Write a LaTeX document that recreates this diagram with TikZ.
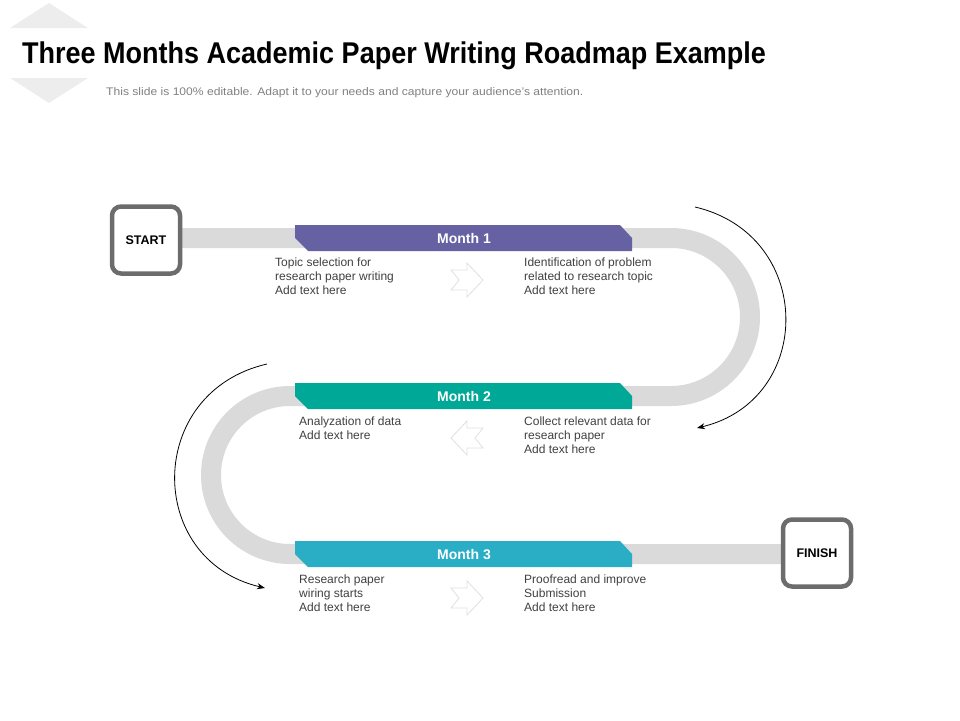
\documentclass[tikz,border=0pt]{standalone}
\usepackage{fontspec}
\setmainfont{Liberation Sans}
\usetikzlibrary{arrows.meta}
\definecolor{mpurple}{HTML}{6561A2}
\definecolor{mteal}{HTML}{00A898}
\definecolor{mcyan}{HTML}{2AAEC6}
\definecolor{track}{HTML}{DADADA}
\definecolor{bodytxt}{HTML}{404040}
\tikzset{
 bodytext/.style={anchor=north west,align=left,font=\fontsize{12}{14}\selectfont,text=bodytxt,inner sep=0pt},
 endbox/.style={draw=gray!85!black,line width=4.5pt,fill=white,rounded corners=9pt,minimum width=68pt,minimum height=67pt,font=\bfseries\fontsize{12.5}{14}\selectfont},
 banlabel/.style={text=white,font=\bfseries\fontsize{14}{16}\selectfont},
 hollow/.style={draw=black!12,line width=0.8pt,fill=white},
 curvearrow/.style={-{Stealth[length=8pt,width=6pt]},line width=0.8pt}
}
\newcommand{\banner}[3]{%
 \fill[#2] (295,#1-13) -- (620,#1-13) -- (632,#1) -- (632,#1+13) -- (308,#1+13) -- (295,#1) -- cycle;
 \node[banlabel] (#3) at (464,#1) {\csname lbl#3\endcsname};}
\newcommand{\lblma}{Month 1}\newcommand{\lblmb}{Month 2}\newcommand{\lblmc}{Month 3}
\begin{document}
\begin{tikzpicture}[x=1pt,y=-1pt]
\useasboundingbox (0,0) rectangle (960,720);
% background diamond
\fill[black!7] (10,28) -- (49,3) -- (88,28) -- cycle;
\fill[black!7] (10,78) -- (88,78) -- (49,103) -- cycle;
\node[anchor=west,inner sep=0pt,font=\bfseries\fontsize{30}{32}\selectfont] (title) at (22,56) {\scalebox{0.9}[1]{Three Months Academic Paper Writing Roadmap Example}};
\node[anchor=west,inner sep=0pt,text=black!50,font=\fontsize{11}{12}\selectfont] (sub) at (106,93) {\scalebox{1.1}[1]{This slide is 100\% editable. Adapt it to your needs and capture your audience's attention.}};
% track
\draw[track,line width=20pt] (182,238) -- (671,238) arc[start angle=-90,end angle=90,radius=79] -- (290,396) arc[start angle=-90,end angle=-270,radius=79] -- (781,554);
\banner{238}{mpurple}{ma}
\banner{396}{mteal}{mb}
\banner{554}{mcyan}{mc}
\node[endbox] (start) at (146,240) {START};
\node[endbox] (finish) at (817,553) {FINISH};
% curved arrows
\coordinate (r1) at (695,207); \coordinate (r2) at (697,428);
\draw[curvearrow] (r1) .. controls (815,235) and (815,400) .. (r2);
\coordinate (l1) at (267,364); \coordinate (l2) at (265,588);
\draw[curvearrow] (l1) .. controls (145,392) and (145,560) .. (l2);
% hollow arrows
\draw[hollow] (451,270) -- (467,270) -- (467,263) -- (483,280) -- (467,297) -- (467,290) -- (451,290) -- (459,280) -- cycle;
\draw[hollow] (483,428) -- (467,428) -- (467,421) -- (451,438) -- (467,455) -- (467,448) -- (483,448) -- (475,438) -- cycle;
\draw[hollow] (451,588) -- (467,588) -- (467,581) -- (483,598) -- (467,615) -- (467,608) -- (451,608) -- (459,598) -- cycle;
% texts
\node[bodytext] (t1) at (275,258) {Topic selection for\\research paper writing\\Add text here};
\node[bodytext] (t2) at (524,258) {Identification of problem\\related to research topic\\Add text here};
\node[bodytext] (t3) at (299,417) {Analyzation of data\\Add text here};
\node[bodytext] (t4) at (524,417) {Collect relevant data for\\research paper\\Add text here};
\node[bodytext] (t5) at (299,575) {Research paper\\wiring starts\\Add text here};
\node[bodytext] (t6) at (524,575) {Proofread and improve\\Submission\\Add text here};
\end{tikzpicture}
\end{document}
